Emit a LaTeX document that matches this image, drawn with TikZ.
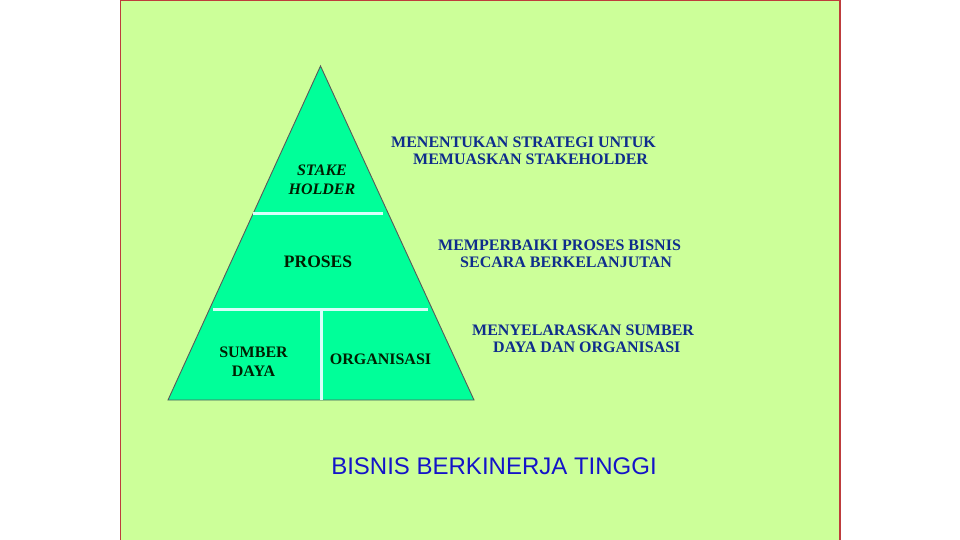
\documentclass[tikz,border=0pt]{standalone}
\usepackage{fontspec}
\setmainfont{Liberation Serif}
\newfontfamily\arialfont{Liberation Sans}
\definecolor{bggreen}{RGB}{204,255,153}
\definecolor{trigreen}{RGB}{0,255,153}
\definecolor{divline}{RGB}{215,255,250}
\definecolor{borderred}{RGB}{190,60,60}
\definecolor{navytext}{RGB}{15,45,140}
\definecolor{darktext}{RGB}{0,30,0}
\definecolor{titleblue}{RGB}{20,20,200}
\tikzset{
  panel/.style={fill=bggreen, draw=borderred, line width=1.4pt},
  pyramid/.style={fill=trigreen, draw=black!65, line width=0.9pt},
  divider/.style={draw=divline, line width=3pt},
  tritext/.style={font=\bfseries\fontsize{16}{19}\selectfont, text=darktext, align=center, inner sep=0pt},
  sidetext/.style={font=\bfseries\fontsize{16}{17}\selectfont, text=navytext, align=left, inner sep=0pt, anchor=west},
  titletext/.style={font=\arialfont\fontsize{24}{28}\selectfont, text=titleblue, inner sep=0pt}
}
\begin{document}
\begin{tikzpicture}[x=1pt,y=-1pt]
\useasboundingbox (0,0) rectangle (960,540);
\fill[white] (0,0) rectangle (960,540);
\path[panel] (120.5,0.7) rectangle (840,542);
% pyramid
\coordinate (apex) at (320.5,66);
\coordinate (bl) at (168,400);
\coordinate (br) at (474,400);
\path[pyramid] (apex) -- (br) -- (bl) -- cycle;
% dividers
\coordinate (d1a) at (253,213);
\coordinate (d1b) at (383,213);
\coordinate (d2a) at (213,309);
\coordinate (d2b) at (428,309);
\coordinate (d3a) at (321.5,309);
\coordinate (d3b) at (321.5,400);
\draw[divider] (d1a) -- (d1b);
\draw[divider] (d2a) -- (d2b);
\draw[divider] (d3a) -- (d3b);
% pyramid labels
\node[tritext, font=\bfseries\itshape\fontsize{16}{19}\selectfont] (stake) at (322,180) {STAKE\\HOLDER};
\node[tritext, font=\bfseries\fontsize{17.5}{19}\selectfont] (proses) at (318,262) {PROSES};
\node[tritext] (sumber) at (253.5,361.5) {SUMBER\\DAYA};
\node[tritext] (org) at (380.5,359) {ORGANISASI};
% side labels
\node[sidetext] (s1) at (391,150.5) {MENENTUKAN STRATEGI UNTUK\\\hspace*{22pt}MEMUASKAN STAKEHOLDER};
\node[sidetext] (s2) at (438,254) {MEMPERBAIKI PROSES BISNIS\\\hspace*{22pt}SECARA BERKELANJUTAN};
\node[sidetext] (s3) at (472,339) {MENYELARASKAN SUMBER\\\hspace*{21pt}DAYA DAN ORGANISASI};
% title
\node[titletext] (title) at (494,466) {BISNIS BERKINERJA TINGGI};
\end{tikzpicture}
\end{document}
